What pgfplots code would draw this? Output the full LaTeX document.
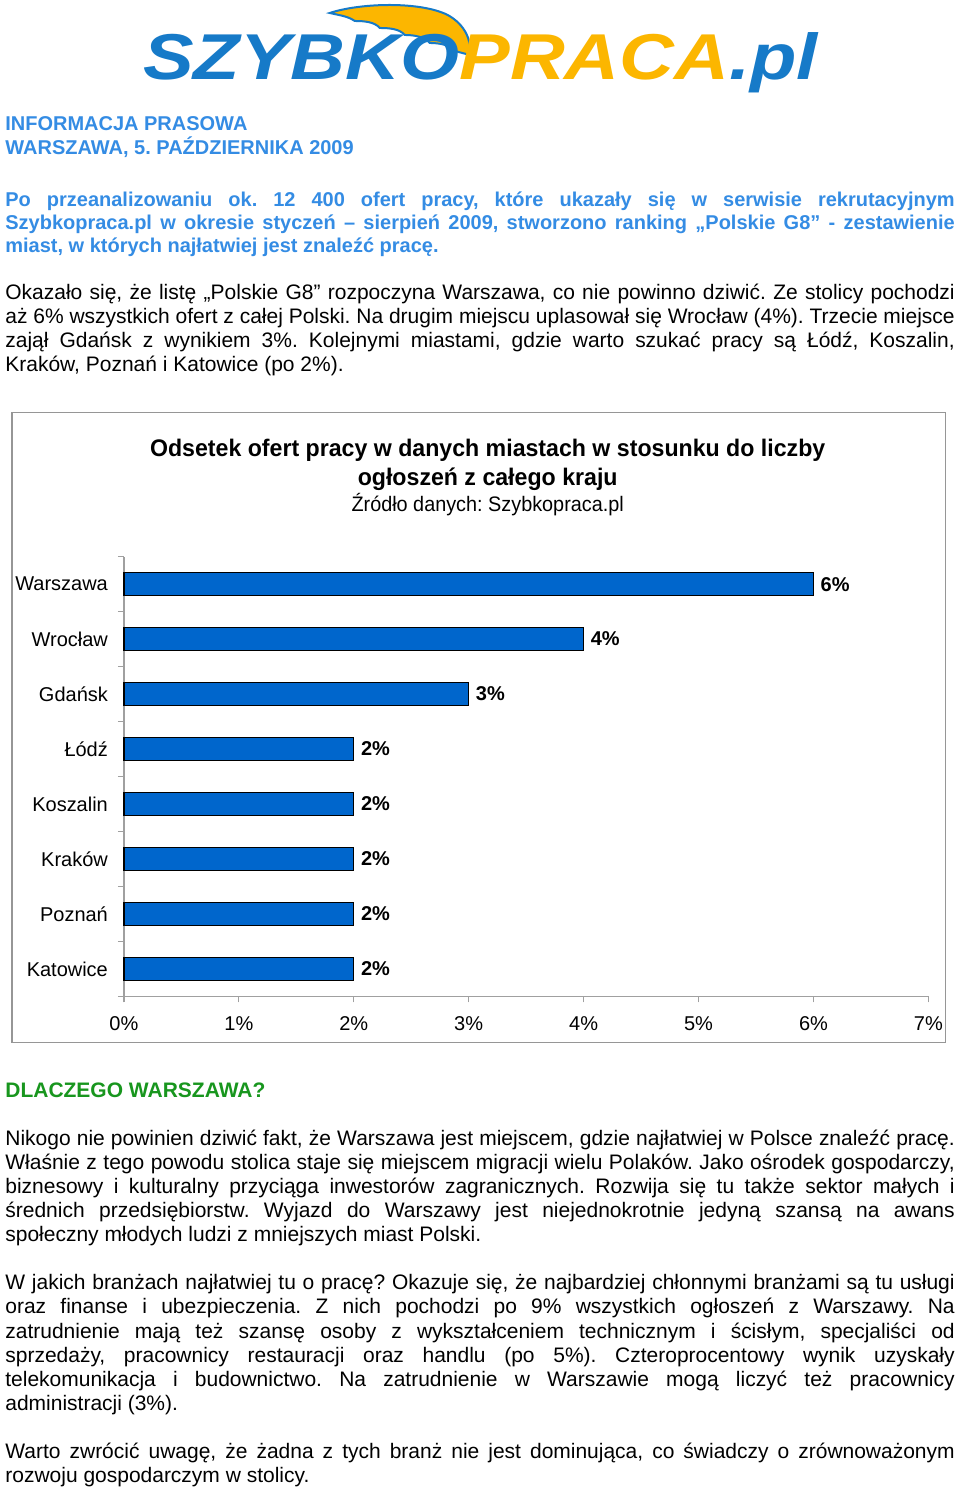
\documentclass[border=0pt]{standalone}
\usepackage{pgfplots}
\pgfplotsset{compat=1.18}
\usepackage{fontspec}
\setmainfont{Liberation Sans}
\definecolor{headblue}{RGB}{52,140,228}
\definecolor{barblue}{RGB}{0,102,204}
\definecolor{hgreen}{RGB}{24,150,30}
\definecolor{logoblue}{RGB}{22,122,200}
\definecolor{logoorange}{RGB}{252,182,0}
\definecolor{axisgray}{RGB}{160,160,160}
\definecolor{framegray}{RGB}{150,150,150}
\newcommand\jl[1]{\hbox to 475pt{#1}}
\newcommand\lastl[1]{\hbox{#1}}
\frenchspacing
\begin{document}
\begin{tikzpicture}[x=0.5pt,y=-0.5pt]
\path[fill=white] (0,0) rectangle (960,1491);
% logo wing
\filldraw[fill=logoorange,draw=logoblue,line width=1pt]
 (330,12) .. controls (360,2) and (420,0) .. (448,14) .. controls (466,24) and (472,40) .. (470,54)
 -- (455,50) .. controls (450,44) and (440,42) .. (430,42) .. controls (425,36) and (415,34) .. (405,34)
 .. controls (400,28) and (390,27) .. (380,27) .. controls (375,21) and (365,20) .. (355,20)
 .. controls (348,15) and (338,14) .. (330,12) -- cycle;
\node[anchor=base west,inner sep=0,font=\fontsize{32}{32}\selectfont\bfseries\itshape] at (143,79)
 {\resizebox{337.5pt}{23.5pt}{\textcolor{logoblue}{SZYBKO}\textcolor{logoorange}{PRACA}\textcolor{logoblue}{.pl}}};
% header
\node[anchor=base west,inner sep=0,font=\fontsize{10}{12}\selectfont\bfseries,text=headblue] at (5,129.5) {INFORMACJA PRASOWA};
\node[anchor=base west,inner sep=0,font=\fontsize{10}{12}\selectfont\bfseries,text=headblue] at (5,153.5) {WARSZAWA, 5. PAŹDZIERNIKA 2009};
\node[anchor=base west,inner sep=0,font=\fontsize{10}{11.5}\selectfont\bfseries,text=headblue] at (5,205.5) {\vtop{%
\jl{Po przeanalizowaniu ok. 12 400 ofert pracy, które ukazały się w serwisie rekrutacyjnym}
\jl{Szybkopraca.pl w okresie styczeń – sierpień 2009, stworzono ranking „Polskie G8” - zestawienie}
\lastl{miast, w których najłatwiej jest znaleźć pracę.}}};
\node[anchor=base west,inner sep=0,font=\fontsize{10.5}{12}\selectfont] at (5,299) {\vtop{%
\jl{Okazało się, że listę „Polskie G8” rozpoczyna Warszawa, co nie powinno dziwić. Ze stolicy pochodzi}
\jl{aż 6\% wszystkich ofert z całej Polski. Na drugim miejscu uplasował się Wrocław (4\%). Trzecie miejsce}
\jl{zajął Gdańsk z wynikiem 3\%. Kolejnymi miastami, gdzie warto szukać pracy są Łódź, Koszalin,}
\lastl{Kraków, Poznań i Katowice (po 2\%).}}};
% chart frame and titles
\draw[framegray,line width=0.75pt] (12,412) rectangle (946,1042);
\node[anchor=base,inner sep=0,font=\fontsize{12}{14}\selectfont\bfseries] at (488,455.5) {\scalebox{0.965}[1]{Odsetek ofert pracy w danych miastach w stosunku do liczby}};
\node[anchor=base,inner sep=0,font=\fontsize{12}{14}\selectfont\bfseries] at (488,485) {\scalebox{0.965}[1]{ogłoszeń z całego kraju}};
\node[anchor=base,inner sep=0,font=\fontsize{10.5}{12}\selectfont] at (488,510.5) {\scalebox{0.945}[1]{Źródło danych: Szybkopraca.pl}};
\begin{axis}[at={(62pt,-498pt)},anchor=south west,scale only axis,
 width=402.5pt,height=220pt,xmin=0,xmax=7,ymin=-0.5,ymax=7.5,
 xbar,bar width=11.5pt,
 axis x line*=bottom,axis y line*=left,
 axis line style={axisgray,line width=0.6pt},
 tick style={axisgray,line width=0.6pt},
 major tick length=0pt,minor tick length=3pt,tick align=outside,
 xtick={0,...,7},xticklabels={0\%,1\%,2\%,3\%,4\%,5\%,6\%,7\%},
 minor xtick={0,...,7},
 ytick={0,...,7},yticklabels={Katowice,Poznań,Kraków,Koszalin,Łódź,Gdańsk,Wrocław,Warszawa},
 minor ytick={-0.5,0.5,...,7.5},
 xticklabel style={font=\fontsize{10}{12}\selectfont,yshift=-6.5pt},
 yticklabel style={font=\fontsize{10}{12}\selectfont,xshift=-4.5pt},
 point meta=x,
 /pgf/number format/assume math mode=true,
 nodes near coords={\pgfmathprintnumber{\pgfplotspointmeta}\%},
 nodes near coords style={font=\fontsize{10}{12}\selectfont\bfseries,anchor=west,xshift=0pt},
 clip=false]
\addplot[fill=barblue,draw=black,line width=0.6pt] coordinates {(6,7) (4,6) (3,5) (2,4) (2,3) (2,2) (2,1) (2,0)};
\end{axis}
% second part
\node[anchor=base west,inner sep=0,font=\fontsize{10.5}{12}\selectfont\bfseries,text=hgreen] at (5,1097.5) {DLACZEGO WARSZAWA?};
\node[anchor=base west,inner sep=0,font=\fontsize{10.5}{12}\selectfont] at (5,1145.5) {\vtop{%
\jl{Nikogo nie powinien dziwić fakt, że Warszawa jest miejscem, gdzie najłatwiej w Polsce znaleźć pracę.}
\jl{Właśnie z tego powodu stolica staje się miejscem migracji wielu Polaków. Jako ośrodek gospodarczy,}
\jl{biznesowy i kulturalny przyciąga inwestorów zagranicznych. Rozwija się tu także sektor małych i}
\jl{średnich przedsiębiorstw. Wyjazd do Warszawy jest niejednokrotnie jedyną szansą na awans}
\lastl{społeczny młodych ludzi z mniejszych miast Polski.}}};
\node[anchor=base west,inner sep=0,font=\fontsize{10.5}{12.1}\selectfont] at (5,1289.5) {\vtop{%
\jl{W jakich branżach najłatwiej tu o pracę? Okazuje się, że najbardziej chłonnymi branżami są tu usługi}
\jl{oraz finanse i ubezpieczenia. Z nich pochodzi po 9\% wszystkich ogłoszeń z Warszawy. Na}
\jl{zatrudnienie mają też szansę osoby z wykształceniem technicznym i ścisłym, specjaliści od}
\jl{sprzedaży, pracownicy restauracji oraz handlu (po 5\%). Czteroprocentowy wynik uzyskały}
\jl{telekomunikacja i budownictwo. Na zatrudnienie w Warszawie mogą liczyć też pracownicy}
\lastl{administracji (3\%).}}};
\node[anchor=base west,inner sep=0,font=\fontsize{10.5}{12}\selectfont] at (5,1458.5) {\vtop{%
\jl{Warto zwrócić uwagę, że żadna z tych branż nie jest dominująca, co świadczy o zrównoważonym}
\lastl{rozwoju gospodarczym w stolicy.}}};
\end{tikzpicture}
\end{document}
